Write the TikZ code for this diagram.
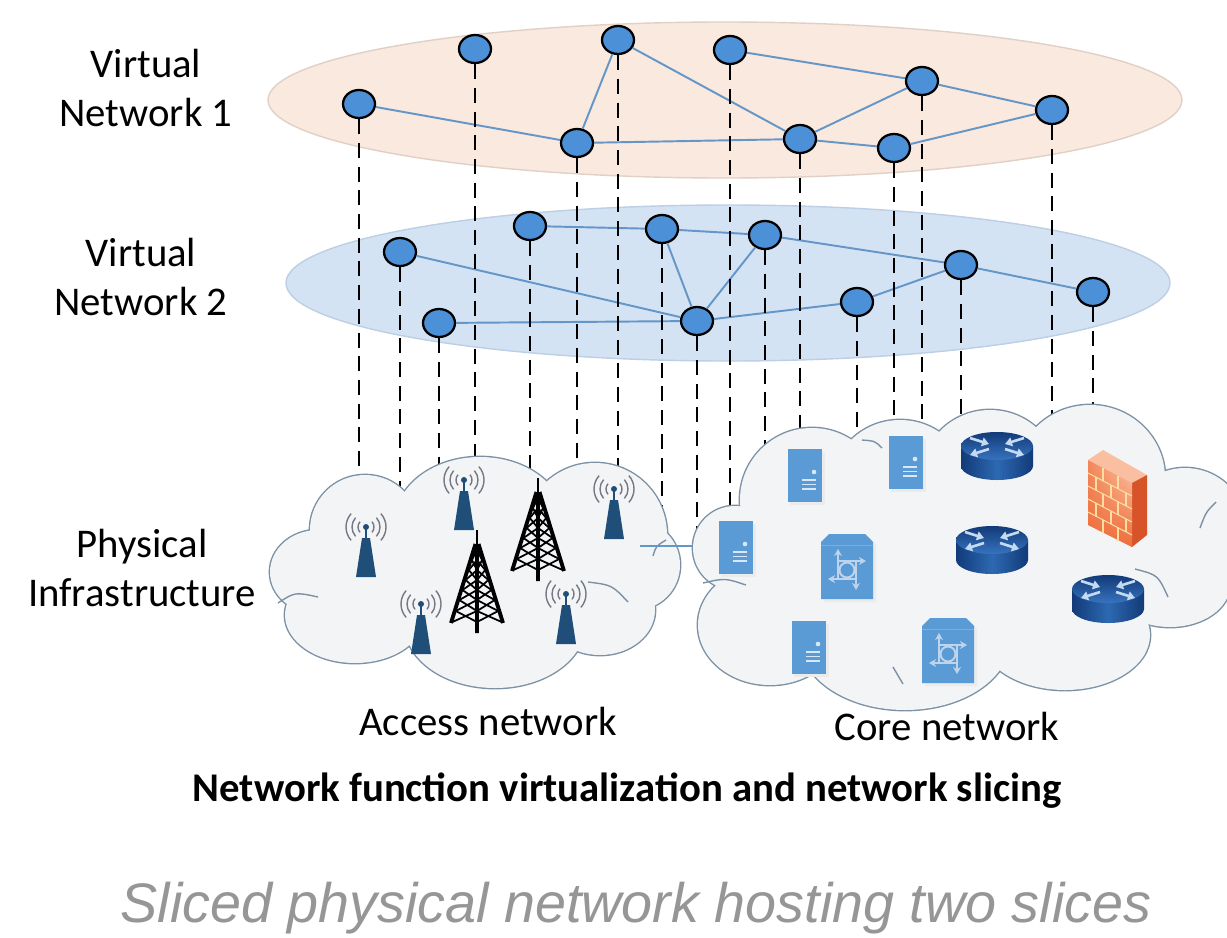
\documentclass[tikz,border=0pt]{standalone}
\usepackage{fontspec}
\setmainfont{Carlito}
\newfontfamily\capfont{Liberation Sans}
\usetikzlibrary{shapes.geometric,arrows.meta,shadings}

\tikzset{
  antenna/.pic={
    \fill[antblue] (-4,11) -- (4,11) -- (10,50) -- (-10,50) -- cycle;
    \draw[antblue, line width=1pt] (0,0) -- (0,11);
    \fill[antblue] (0,0) circle[radius=3];
    \foreach \r in {8,14,20}{
      \draw[sigray, line width=0.8pt] (-42:\r) arc[start angle=-42, end angle=42, radius=\r];
      \draw[sigray, line width=0.8pt] (138:\r) arc[start angle=138, end angle=222, radius=\r];
    }
  },
  lattice/.pic={
    \draw[line width=1.6pt] (0,0) -- (0,16);
    \draw[line width=2.2pt] (-1.5,14) -- (-26,93) (1.5,14) -- (26,93) (0,14) -- (0,103);
    \foreach \ya/\yb in {20/30,30/40,40/50,50/60,60/70,70/81,81/92}{
      \draw[line width=1pt] ({-25*(\ya-14)/79},\ya) -- (0,\yb) (0,\ya) -- ({-25*(\yb-14)/79},\yb)
        ({25*(\ya-14)/79},\ya) -- (0,\yb) (0,\ya) -- ({25*(\yb-14)/79},\yb);
    }
  },
  server/.pic={
    \fill[black!8] (-15,-23) rectangle (20,30);
    \fill[srvblue] (-17,-26) rectangle (17,27);
    \fill[srvmark] (9,-3) circle[radius=2.3];
    \draw[srvmark, line width=0.7pt] (-3,5) -- (11,5) (-3,9.5) -- (11,9.5) (-3,14) -- (11,14);
  },
  vnfbox/.pic={
    \fill[black!8] (-23,36) -- (-23,-21) -- (-15,-29) -- (21,-29) -- (29,-21) -- (29,36) -- cycle;
    \fill[srvblue] (-26,33) -- (-26,-24) -- (-18,-32) -- (18,-32) -- (26,-24) -- (26,33) -- cycle;
    \draw[vnflid, line width=0.5pt] (-26,-21) -- (26,-21);
    \begin{scope}[vnfsym, line width=1.1pt, -{Stealth[length=4pt,width=4.5pt]}]
      \draw (-9,13) -- (-9,-17);
      \draw (-9,-5) -- (19,-5);
      \draw (9,-5) -- (9,24);
      \draw (9,13) -- (-19,13);
    \end{scope}
    \draw[vnfsym, line width=1.1pt] (0,4) circle[radius=7.5];
  },
  router/.pic={
    \shade[left color=rtdark, right color=rtdark, middle color=rtmid]
      (-36,-10) -- (-36,10) arc[start angle=180, end angle=0, x radius=36, y radius=14] -- (36,-10) -- cycle;
    \shade[top color=rtdark, bottom color=rttop] (0,-10) ellipse[x radius=36, y radius=14];
    \begin{scope}[rtarrow, line width=1.5pt, -{Triangle[length=4pt,width=5pt]}]
      \draw (-27,-18) -- (-8,-12);
      \draw (27,-18) -- (8,-12);
      \draw (-8,-7) -- (-27,-1);
      \draw (8,-7) -- (27,-1);
    \end{scope}
  },
  firewall/.pic={
    \fill[fwtop] (-29,-38) -- (-14,-48) -- (30,-23) -- (15,-15) -- cycle;
    \fill[fwside] (15,-15) -- (30,-23) -- (30,37) -- (15,49) -- cycle;
    \shade[upper left=fwfront!70!fwlight, upper right=fwlight, lower left=fwfront, lower right=fwfront]
      (-29,-38) -- (15,-15) -- (15,49) -- (-29,27) -- cycle;
    \foreach \k in {1,...,4}
      \draw[fwbrick, line width=0.6pt] (-29,{-38+13*\k}) -- (15,{-15+13*\k});
    \foreach \k/\xs in {0/{-14,1},1/{-21,-6,9},2/{-14,1},3/{-21,-6,9},4/{-14,1}}
      \foreach \x in \xs
        \draw[fwbrick, line width=0.6pt] (\x,{-38+13*\k+(\x+29)*23/44}) -- ++(0,13);
  }
}

\begin{document}
\begin{tikzpicture}[x=0.02cm, y=-0.02cm,
  vnode/.style={ellipse, draw=black, line width=1.3pt, fill=vnodeblue,
    minimum width=0.64cm, minimum height=0.56cm, inner sep=0pt},
  vlink/.style={draw=vlinkblue, line width=1.1pt},
  drop/.style={black, line width=1.4pt, dash pattern=on 8.5pt off 5pt},
  puffedge/.style={cloudline, line width=0.8pt},
  lbl/.style={font=\fontsize{23.2}{28.4}\selectfont, align=center, inner sep=0pt}]
\definecolor{vnodeblue}{RGB}{76,145,215}
\definecolor{vlinkblue}{RGB}{100,150,200}
\definecolor{slice1fill}{RGB}{250,233,222}
\definecolor{slice1line}{RGB}{225,208,198}
\definecolor{slice2fill}{RGB}{212,227,243}
\definecolor{slice2line}{RGB}{188,207,228}
\definecolor{cloudfill}{RGB}{243,244,246}
\definecolor{cloudline}{RGB}{125,145,165}
\definecolor{antblue}{RGB}{31,78,121}
\definecolor{sigray}{RGB}{120,120,132}
\definecolor{srvblue}{RGB}{91,155,213}
\definecolor{srvmark}{RGB}{215,232,248}
\definecolor{vnflid}{RGB}{120,175,225}
\definecolor{vnfsym}{RGB}{190,212,236}
\definecolor{rtdark}{RGB}{18,58,120}
\definecolor{rtmid}{RGB}{45,105,178}
\definecolor{rttop}{RGB}{55,115,190}
\definecolor{rtarrow}{RGB}{195,218,242}
\definecolor{fwfront}{RGB}{238,108,58}
\definecolor{fwlight}{RGB}{252,200,170}
\definecolor{fwside}{RGB}{214,84,40}
\definecolor{fwtop}{RGB}{250,190,160}
\definecolor{fwbrick}{RGB}{252,222,160}
\definecolor{capgray}{RGB}{150,150,150}

\path[use as bounding box, fill=white] (0,0) rectangle (1227,937);

% slice planes
\draw[slice1line, fill=slice1fill, line width=0.8pt] (725,100) ellipse[x radius=457, y radius=78];
\draw[slice2line, fill=slice2fill, line width=0.8pt] (728,283) ellipse[x radius=442, y radius=78];

% virtual network 1
\node[vnode] (s1a) at (359,104) {};
\node[vnode] (s1b) at (475,49) {};
\node[vnode] (s1c) at (618,40) {};
\node[vnode] (s1d) at (730,50) {};
\node[vnode] (s1e) at (577,143) {};
\node[vnode] (s1f) at (922,81) {};
\node[vnode] (s1g) at (800,139) {};
\node[vnode] (s1h) at (894,148) {};
\node[vnode] (s1i) at (1052,110) {};
\foreach \p/\q in {s1a/s1e, s1e/s1c, s1c/s1g, s1e/s1g, s1d/s1f, s1g/s1f, s1g/s1h, s1h/s1i, s1f/s1i}
  \draw[vlink] (\p) -- (\q);

% virtual network 2
\node[vnode] (s2a) at (400,252) {};
\node[vnode] (s2b) at (530,226) {};
\node[vnode] (s2c) at (662,229) {};
\node[vnode] (s2d) at (439,323) {};
\node[vnode] (s2e) at (697,321) {};
\node[vnode] (s2f) at (765,235) {};
\node[vnode] (s2g) at (857,302) {};
\node[vnode] (s2h) at (961,265) {};
\node[vnode] (s2i) at (1093,292) {};
\foreach \p/\q in {s2a/s2e, s2d/s2e, s2b/s2c, s2c/s2f, s2c/s2e, s2e/s2f, s2e/s2g, s2g/s2h, s2f/s2h, s2h/s2i}
  \draw[vlink] (\p) -- (\q);

% mapping onto the physical nodes, cut off by the clouds below
\foreach \n in {s1a,s1b,s1c,s1d,s1e,s1f,s1g,s1h,s1i,s2a,s2b,s2c,s2d,s2e,s2f,s2g,s2h,s2i}
  \draw[drop] (\n) -- (\n |- 0,555);

% clouds: outline of the puffs, then fill over the inner half
\def\accesspuffs{318/572/48/42, 365/530/55/55, 480/522/85/65, 595/535/72/72, 635/565/45/45,
  600/610/55/45, 495/625/90/63, 355/615/70/48, 470/575/160/70}
\def\corepuffs{735/548/42/42, 812/500/72/72, 900/490/70/70, 990/480/70/70, 1090/478/75/73,
  1185/530/62/62, 1170/585/60/42, 1065/635/85/55, 905/640/105/70, 770/625/72/60, 960/555/220/110}
\foreach \cx/\cy/\rx/\ry in \accesspuffs
  \draw[cloudline, line width=1.6pt] (\cx,\cy) ellipse[x radius=\rx, y radius=\ry];
\foreach \cx/\cy/\rx/\ry in \corepuffs
  \draw[cloudline, line width=1.6pt] (\cx,\cy) ellipse[x radius=\rx, y radius=\ry];
\foreach \cx/\cy/\rx/\ry in \accesspuffs
  \fill[cloudfill] (\cx,\cy) ellipse[x radius=\rx, y radius=\ry];
\foreach \cx/\cy/\rx/\ry in \corepuffs
  \fill[cloudfill] (\cx,\cy) ellipse[x radius=\rx, y radius=\ry];
% inner puff edges
\draw[puffedge] (278,603) .. controls (295,592) .. (318,597);
\draw[puffedge] (588,582) .. controls (612,585) .. (628,602);
\draw[puffedge] (653,556) .. controls (656,546) .. (666,540);
\draw[puffedge] (703,583) .. controls (725,578) .. (746,585);
\draw[puffedge] (862,440) .. controls (875,441) .. (882,448);
\draw[puffedge] (893,667) .. controls (898,676) .. (903,684);
\draw[puffedge] (1135,569) .. controls (1158,575) .. (1168,597);
\draw[puffedge] (1200,528) .. controls (1206,512) .. (1216,502);

\coordinate (acclink) at (640,546);
\coordinate (corelink) at (693,546);
\draw[vlinkblue, line width=0.9pt] (acclink) -- (corelink);

% access network
\pic (ant1) at (366,527) {antenna};
\pic (ant2) at (464,480) {antenna};
\pic (ant3) at (614,489) {antenna};
\pic (ant4) at (421,604) {antenna};
\pic (ant5) at (566,594) {antenna};
\pic (tow1) at (477,530) {lattice};
\pic (tow2) at (538,478) {lattice};

% core network
\pic (srv1) at (805,475) {server};
\pic (srv2) at (906,462) {server};
\pic (srv3) at (736,547) {server};
\pic (srv4) at (809,647) {server};
\pic (vnf1) at (847,566) {vnfbox};
\pic (vnf2) at (948,650) {vnfbox};
\pic (rt1) at (997,456) {router};
\pic (rt2) at (992,550) {router};
\pic (rt3) at (1108,599) {router};
\pic (fw) at (1117,498) {firewall};

\node[lbl] (vn1) at (146,88) {Virtual\\Network 1};
\node[lbl] (vn2) at (141,277) {Virtual\\Network 2};
\node[lbl] (phy) at (142,568) {Physical\\Infrastructure};
\node[lbl, anchor=base] (acc) at (488,735) {Access network};
\node[lbl, anchor=base] (core) at (947,740) {Core network};
\node[lbl, anchor=base, font=\fontsize{23.2}{28.4}\selectfont\bfseries] (nfv) at (627,801)
  {Network function virtualization and network slicing};
\node[anchor=base, inner sep=0pt, text=capgray, font=\capfont\itshape\fontsize{31.7}{38}\selectfont] (cap) at (636,922)
  {Sliced physical network hosting two slices};
\end{tikzpicture}
\end{document}
